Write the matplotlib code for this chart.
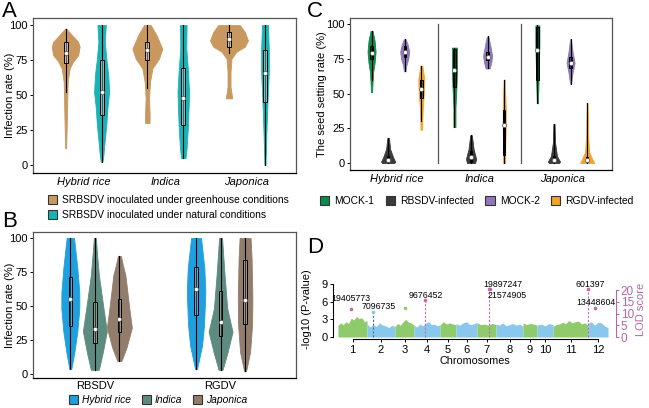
import numpy as np
import matplotlib.pyplot as plt
from matplotlib.patches import Patch, Rectangle

W, H = 649, 408
plt.rcParams['font.family'] = ['Liberation Sans', 'DejaVu Sans']

# ---------------- data ----------------
# panel A: infection rate, violins per genotype x condition
a_groups = ['Hybrid rice', 'Indica', 'Japonica']
a_conditions = ['SRBSDV inoculated under greenhouse conditions',
                'SRBSDV inoculated under natural conditions']
a_levels = [
    [97.5, 93, 88, 84.5, 78.5, 74, 69, 59.5, 50, 36, 12],
    [100, 88, 76, 64, 52, 40.7, 28.6, 16.6, 7, 2.4],
    [100, 93, 83, 76, 69, 59.5, 48, 35.7, 30],
    [100, 83, 69, 52, 40.5, 26, 12, 5],
    [100, 95, 89, 84.5, 81, 76, 66.6, 56, 51, 47.6],
    [100, 83, 66.6, 48, 28.6, 12, 0],
]
a_density = [
    [0.5, 6, 12.5, 14, 12.5, 7.5, 4, 2, 1.7, 1.3, 0.5],
    [4.2, 3.2, 4.7, 6.7, 7.5, 5.8, 4.7, 3, 1.8, 0.8],
    [3.3, 9, 15, 11.7, 5, 2.7, 1.7, 2.3, 2.2],
    [3.3, 3, 4.5, 5.8, 5.3, 4.5, 3.3, 2.2],
    [10.8, 15.8, 19, 15.8, 7.5, 2.5, 1.5, 1.5, 2.5, 3.2],
    [3, 3.8, 3.8, 2.7, 1.7, 1, 0.5],
]
# lo, q1, median, q3, hi
a_boxes = [
    [52, 73, 80, 88, 97.5],
    [2.4, 36, 52, 75, 100],
    [55, 75, 82, 88, 100],
    [5, 28.6, 48, 69, 100],
    [80, 84.5, 90, 95, 100],
    [0, 45, 65.7, 82, 100],
]

# panel B: infection rate by virus and genotype
b_groups = ['RBSDV', 'RGDV']
b_genotypes = ['Hybrid rice', 'Indica', 'Japonica']
b_levels = [
    [100, 78, 60, 48, 31, 16, 3.7],
    [100, 90, 72.8, 48, 31.4, 16, 3],
    [86.8, 80, 72.8, 48, 34, 19, 9.5],
    [100, 78, 60, 36, 21, 3.7],
    [100, 72.8, 48, 31, 16, 3],
    [100, 85, 56, 36, 16, 2],
]
b_density = [
    [3.7, 7, 9, 9, 7, 4, 1],
    [1, 2, 4, 8.7, 12, 8, 4],
    [1.5, 3.5, 6, 10, 12.5, 7, 2],
    [5, 8.3, 9.3, 8, 6, 1],
    [1.5, 4, 6.7, 12, 7, 2],
    [5.5, 6.5, 7.3, 7, 5, 1],
]
b_boxes = [
    [3.7, 35, 55, 71.5, 100],
    [3, 23, 33, 53, 100],
    [9.5, 31, 40.5, 55, 86.8],
    [3.7, 43.4, 62.5, 78.7, 100],
    [3, 28, 38.5, 61, 100],
    [2, 37, 54.5, 84, 100],
]

# panel C: seed setting rate
c_groups = ['Hybrid rice', 'Indica', 'Japonica']
c_treatments = ['MOCK-1', 'RBSDV-infected', 'MOCK-2', 'RGDV-infected']
c_levels = [
    [95, 88, 80, 72, 65, 58, 51], [18, 10, 4, 1, 0],
    [89, 85, 80, 75, 70, 66], [70, 60, 50, 40, 30, 24],
    [83, 75, 67, 55, 40, 26], [20, 10, 3, 0],
    [91, 85, 77, 72, 68], [60, 40, 25, 10, 0],
    [99, 85, 70, 55, 43], [28, 15, 5, 1, 0],
    [89, 80, 72, 65, 57], [43, 20, 8, 3, 0],
]
c_density = [
    [1, 3, 4, 3, 1.5, 1, 0.5], [0.8, 2, 5, 7, 6],
    [1, 3, 4.5, 3.5, 1.5, 0.8], [1, 3, 2.5, 1.5, 1, 0.8],
    [2.5, 2.5, 2.5, 2, 1, 1], [0.8, 2.5, 5, 4],
    [0.8, 2.5, 4.5, 3.5, 2], [0.5, 1.5, 1.5, 1, 1],
    [2, 2, 1.5, 1, 0.5], [0.6, 1, 3, 6, 5],
    [0.5, 2, 4, 2, 0.5], [0.5, 1, 2, 5, 7],
]
c_boxes = [
    [60, 75, 79, 84, 95], [0, 0.5, 2, 5, 18],
    [66, 76, 79.5, 84, 89], [30, 47, 53, 60, 70],
    [26, 55, 67, 82, 83], [0, 1, 4, 9, 20],
    [68, 74, 76, 80, 91], [0, 6, 27, 38, 60],
    [43, 60, 81, 98, 99], [0, 1, 2, 5, 28],
    [57, 68, 72, 76, 89], [0, 0.5, 2, 4, 43],
]

# panel D: GWAS manhattan (band tops per chromosome) + peaks
chrom_names = [str(i) for i in range(1, 13)]
chrom_len = [29, 28, 19, 26, 16, 21, 19, 27, 14, 16, 35, 20]
chrom_tops = [
    [2.0, 2.4, 2.1, 2.6, 2.3, 3.2, 2.9, 3.5, 3.1, 3.3, 2.6, 2.8],
    [2.2, 1.7, 2.1, 1.8, 2.4, 2.0, 1.9, 1.6, 2.0, 1.8],
    [1.8, 2.3, 2.0, 2.6, 3.0, 2.5, 2.4, 2.0],
    [2.0, 1.7, 2.2, 1.9, 2.3, 2.6, 2.1, 2.2, 1.9, 2.1],
    [2.0, 2.6, 2.2, 2.4, 2.2, 2.1],
    [2.3, 2.0, 2.4, 2.6, 2.1, 2.2, 2.5],
    [2.4, 2.1, 2.2, 2.0, 2.3, 2.1],
    [2.2, 2.0, 2.4, 1.9, 2.1, 2.3, 2.0, 2.2, 1.8],
    [2.4, 2.1, 2.3, 2.2, 2.0],
    [2.0, 2.2, 1.9, 2.3, 2.1],
    [1.8, 2.1, 2.2, 2.5, 2.3, 2.8, 2.4, 2.6, 2.7, 2.2, 2.4, 2.0],
    [2.3, 2.6, 2.0, 2.5, 2.4, 1.9, 1.6],
]
peak_labels = ['19405773', '7096735', '9676452', '19897247', '21574905', '601397', '13448604']
peak_pos = [13, 35, 87, 151, 152, 250, 257]
peak_val = [4.7, 4.2, 6.3, 8.1, 8.1, 8.1, 4.9]
peak_line = [False, True, True, True, False, True, False]
label_xy = [(13, 6.6), (41, 5.1), (88, 7.1), (165, 9.0), (169, 7.1), (252, 9.0), (258, 5.9)]
extra_dots = [(67, 4.9)]

# ---------------- helpers ----------------
def rect(l, t, r, b):
    return [l / W, 1 - b / H, (r - l) / W, (b - t) / H]


def violin(ax, x, ys, dens, color, ppu, box, box_fc, box_alpha, bw_px=2.0):
    ys = np.array(ys)
    hw = np.array(dens) / ppu
    ax.fill_betweenx(ys, x - hw, x + hw, facecolor=color, edgecolor=color,
                     lw=0.6, zorder=2)
    lo, q1, med, q3, hi = box
    ax.plot([x, x], [lo, hi], color='black', lw=0.8, zorder=3)
    bw = bw_px / ppu
    ax.add_patch(Rectangle((x - bw, q1), 2 * bw, q3 - q1, facecolor=box_fc,
                           alpha=box_alpha, edgecolor='none', zorder=4))
    ax.add_patch(Rectangle((x - bw, q1), 2 * bw, q3 - q1, facecolor='none',
                           edgecolor='black', lw=0.7, zorder=4))
    ax.plot(x, med, 'o', ms=3, mfc='white', mec='#555555', mew=0.5, zorder=5)


def frame(ax, lab_x):
    for s in ax.spines.values():
        s.set_color('#555555')
        s.set_linewidth(0.9)
    ax.spines['bottom'].set_color('black')
    ax.tick_params(axis='y', length=2.5, width=0.7, labelsize=8, pad=1.5)
    ax.tick_params(axis='x', length=0, labelsize=8, pad=3)
    ax.set_yticks([0, 25, 50, 75, 100])
    ax.yaxis.set_label_coords(lab_x, 0.5)


fig = plt.figure(figsize=(W / 100, H / 100), dpi=100)
leg_size = 7.4

# ---------------- A ----------------
a_colors = ['#C9985F', '#1AB3B5']
axA = fig.add_axes(rect(33, 18, 296, 173))
ppuA = 81.7
for i in range(6):
    g, c = divmod(i, 2)
    x = g + 1 + (-0.22 if c == 0 else 0.22)
    violin(axA, x, a_levels[i], a_density[i], a_colors[c], ppuA, a_boxes[i], 'white', 0.35)
axA.set_xlim(0.38, 3.6)
axA.set_ylim(-5.7, 105)
axA.set_xticks([1, 2, 3])
axA.set_xticklabels(a_groups, style='italic')
axA.set_ylabel('Infection rate (%)', fontsize=8)
frame(axA, -0.07)
fig.legend([Patch(facecolor=c, edgecolor='#333333', lw=0.8) for c in a_colors], a_conditions,
           loc='upper left', bbox_to_anchor=(48 / W, 1 - 195 / H), frameon=False,
           fontsize=leg_size, labelspacing=0.5, handlelength=0.9, handleheight=0.9,
           handletextpad=0.5, borderpad=0, borderaxespad=0)

# ---------------- B ----------------
b_colors = ['#1EA0DE', '#5E8B7F', '#927C6B']
axB = fig.add_axes(rect(33, 232, 296, 378))
ppuB = 126
for i in range(6):
    g, c = divmod(i, 3)
    x = g + 1 + (c - 1) * 0.195
    violin(axB, x, b_levels[i], b_density[i], b_colors[c], ppuB, b_boxes[i], 'white', 0.2, 1.7)
axB.set_xlim(0.508, 2.6)
axB.set_ylim(-3, 104.4)
axB.set_xticks([1, 2])
axB.set_xticklabels(b_groups)
axB.set_ylabel('Infection rate (%)', fontsize=8)
frame(axB, -0.07)
axB.tick_params(axis='x', pad=2)
fig.legend([Patch(facecolor=c, edgecolor='#333333', lw=0.8) for c in b_colors], b_genotypes,
           loc='center left', bbox_to_anchor=(69 / W, 1 - 400 / H), frameon=False, ncol=3,
           prop={'size': leg_size, 'style': 'italic'}, handlelength=0.9, handleheight=0.9,
           handletextpad=0.4, columnspacing=1.0, borderpad=0, borderaxespad=0)

# ---------------- C ----------------
c_colors = ['#10894B', '#3A3A3A', '#8E78B8', '#F0A233']
axC = fig.add_axes(rect(350, 18, 612, 170))
ppuC = 82
for i in range(12):
    g, c = divmod(i, 4)
    x = g + 1 + (c - 1.5) * 0.2
    violin(axC, x, c_levels[i], c_density[i], c_colors[c], ppuC, c_boxes[i], 'black', 0.45, 1.2)
for xs in [1.5, 2.5]:
    axC.plot([xs, xs], [0, 100], color='#555555', lw=0.9, zorder=1)
axC.set_xlim(0.44, 3.6)
axC.set_ylim(-5, 104.3)
axC.set_xticks([1, 2, 3])
axC.set_xticklabels(c_groups, style='italic')
axC.set_ylabel('The seed setting rate (%)', fontsize=8)
frame(axC, -0.088)
fig.legend([Patch(facecolor=c, edgecolor='#333333', lw=0.8) for c in c_colors], c_treatments,
           loc='center left', bbox_to_anchor=(320 / W, 1 - 201 / H), frameon=False, ncol=4,
           fontsize=leg_size, handlelength=0.9, handleheight=0.9, handletextpad=0.5,
           columnspacing=1.1, borderpad=0, borderaxespad=0)

# ---------------- D ----------------
axD = fig.add_axes(rect(333, 280, 616, 339))
band_colors = ['#8FCB6C', '#8AC7ED']
start = 0
centers = []
for k, (w, tops) in enumerate(zip(chrom_len, chrom_tops)):
    xs = np.linspace(start, start + w, len(tops))
    axD.fill_between(xs, 0, tops, color=band_colors[k % 2], lw=0, zorder=1)
    centers.append(start + w / 2)
    start += w
for lab, xp, v, ln, (lx, ly) in zip(peak_labels, peak_pos, peak_val, peak_line, label_xy):
    if ln:
        col = '#3D6FA8' if lab == '7096735' else '#C46AAA'
        axD.plot([xp, xp], [0, v], ls=(0, (2, 1.5)), color=col, lw=0.8, zorder=2)
    axD.plot(xp, v, 'o', ms=1.6, color='#C46AAA' if lab != '7096735' else '#8AC7ED', zorder=3)
    axD.text(lx, ly, lab, fontsize=6.3, ha='center', va='center', zorder=4)
for dx, dy in extra_dots:
    axD.plot(dx, dy, 'o', ms=1.6, color='#8FCB6C', zorder=3)
axD.set_xlim(-5, 278)
axD.set_ylim(-0.34, 9.68)
axD.set_yticks([0, 3, 6, 9])
axD.set_xticks(centers)
axD.set_xticklabels(chrom_names)
for s in ['top', 'right']:
    axD.spines[s].set_visible(False)
axD.spines['left'].set_bounds(0, 9)
axD.spines['bottom'].set_bounds(centers[0], centers[-1])
axD.tick_params(axis='both', length=2.5, width=0.7, labelsize=8, pad=1.5)
axD.set_xlabel('Chromosomes', fontsize=7.8, labelpad=1)
axD.set_ylabel('-log10 (P-value)', fontsize=8)
axD.yaxis.set_label_coords(-0.075, 0.5)

axL = axD.twinx()
axL.set_ylim(-0.85, 24.3)
axL.set_yticks([0, 5, 10, 15, 20])
lod_col = '#B466A8'
for s in ['top', 'left', 'bottom']:
    axL.spines[s].set_visible(False)
axL.spines['right'].set_bounds(0, 20)
axL.spines['right'].set_color(lod_col)
axL.tick_params(axis='y', colors=lod_col, length=2.5, width=0.7, labelsize=8.5, pad=1)
axL.set_ylabel('LOD score', fontsize=8)
axL.yaxis.label.set_color(lod_col)
axL.yaxis.set_label_coords(1.072, 0.5)

# panel letters
for letter, (px, py) in zip('ABCD', [(2, 1), (2, 211), (307, 1), (307, 237)]):
    fig.text(px / W, 1 - py / H, letter, fontsize=16, ha='left', va='top')

fig.savefig('out.png', dpi=100)
